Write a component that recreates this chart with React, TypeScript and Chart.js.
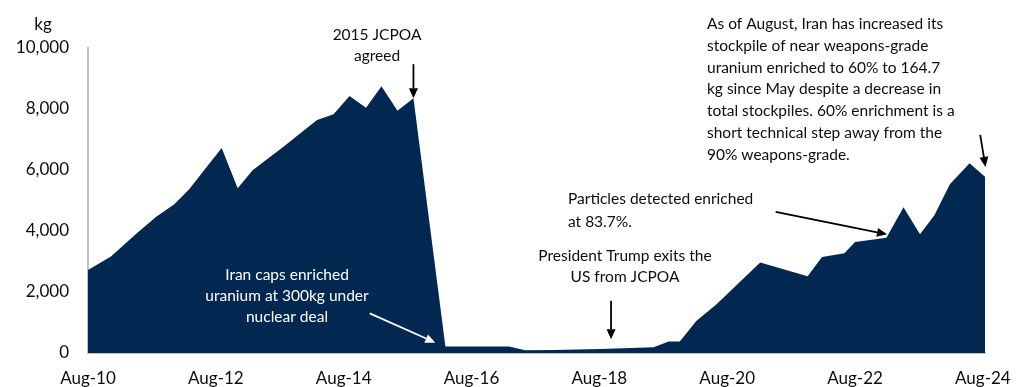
import React, { useEffect, useRef } from "react";
import { Chart, registerables } from "chart.js";

Chart.register(...registerables);

// Iran's enriched uranium stockpile (kg), by report date
const reportDates = [
  "2010-08-01", "2010-12-10", "2011-05-01", "2011-08-25", "2011-12-07",
  "2012-03-01", "2012-05-28", "2012-09-04", "2012-12-04", "2013-02-28",
  "2013-09-01", "2013-11-25", "2014-03-01", "2014-06-04", "2014-09-04",
  "2014-12-07", "2015-03-04", "2015-06-04", "2015-09-04", "2016-03-04",
  "2017-03-01", "2017-06-04", "2017-11-13", "2018-08-07", "2019-06-07",
  "2019-09-01", "2019-11-04", "2020-02-07", "2020-06-01", "2021-02-07",
  "2021-11-04", "2022-01-25", "2022-06-01", "2022-08-01", "2023-01-28",
  "2023-05-04", "2023-08-07", "2023-10-28", "2024-01-25", "2024-05-16",
  "2024-08-13",
];
const stockpileKg = [
  2720, 3160, 3900, 4470, 4880,
  5370, 6020, 6720, 5400, 5990,
  6800, 7200, 7640, 7830, 8430,
  8040, 8750, 7940, 8350, 210,
  210, 90, 100, 130, 190,
  380, 380, 1050, 1600, 2970,
  2520, 3150, 3270, 3640, 3780,
  4780, 3890, 4520, 5530, 6220,
  5780,
];

const xTickDates = ["2010-08-01", "2012-08-01", "2014-08-01", "2016-08-01", "2018-08-01", "2020-08-01", "2022-08-01", "2024-08-01"];
const xTickLabels = ["Aug-10", "Aug-12", "Aug-14", "Aug-16", "Aug-18", "Aug-20", "Aug-22", "Aug-24"];
const yTickValues = [0, 2000, 4000, 6000, 8000, 10000];
const yAxisTitle = "kg";

const FILL = "#022851";
const TEXT = "#0d0d0d";
const AXIS = "#bfbfbf";
const FONT = "Lato, 'DejaVu Sans', sans-serif";

// months elapsed since Aug 2010
function monthIndex(date: string): number {
  const [y, m, d] = date.split("-").map(Number);
  return (y - 2010) * 12 + (m - 8) + (d - 1) / 30;
}

type Note = { lines: string[]; x: number; y: number; align: CanvasTextAlign; color: string; lh: number };
const notes: Note[] = [
  { lines: ["2015 JCPOA", "agreed"], x: 377, y: 35, align: "center", color: TEXT, lh: 21 },
  { lines: ["Iran caps enriched", "uranium at 300kg under", "nuclear deal"], x: 287, y: 275, align: "center", color: "#ffffff", lh: 21 },
  { lines: ["President Trump exits the", "US from JCPOA"], x: 625, y: 256, align: "center", color: TEXT, lh: 21 },
  { lines: ["Particles detected enriched", "at 83.7%."], x: 568, y: 199, align: "left", color: TEXT, lh: 22.5 },
  {
    lines: [
      "As of August, Iran has increased its",
      "stockpile of near weapons-grade",
      "uranium enriched to 60% to 164.7",
      "kg since May despite a decrease in",
      "total stockpiles. 60% enrichment is a",
      "short technical step away from the",
      "90% weapons-grade.",
    ],
    x: 707, y: 24, align: "left", color: TEXT, lh: 21.8,
  },
];

// arrows in data space: [fromMonth, fromKg] -> [toMonth, toKg]
type Arrow = { from: [number, number]; to: [number, number]; color: string };
const arrows: Arrow[] = [
  { from: [61.1, 9470], to: [61.1, 8350], color: "#000000" },
  { from: [52.9, 1300], to: [65.2, 340], color: "#ffffff" },
  { from: [98.2, 1715], to: [98.2, 450], color: "#000000" },
  { from: [129.1, 4630], to: [150.0, 3890], color: "#000000" },
  { from: [167.5, 7150], to: [168.5, 6100], color: "#000000" },
];

const annotationPlugin = {
  id: "notes",
  afterDatasetsDraw(chart: any) {
    const ctx: CanvasRenderingContext2D = chart.ctx;
    const xs = chart.scales.x;
    const ys = chart.scales.y;
    ctx.save();
    // axis title
    ctx.font = `17px ${FONT}`;
    ctx.fillStyle = TEXT;
    ctx.textAlign = "center";
    ctx.textBaseline = "middle";
    ctx.fillText(yAxisTitle, 43, 25);

    ctx.font = `15.5px ${FONT}`;
    for (const n of notes) {
      ctx.fillStyle = n.color;
      ctx.textAlign = n.align;
      n.lines.forEach((line, i) => ctx.fillText(line, n.x, n.y + i * n.lh));
    }

    for (const a of arrows) {
      const x1 = xs.getPixelForValue(a.from[0]);
      const y1 = ys.getPixelForValue(a.from[1]);
      const x2 = xs.getPixelForValue(a.to[0]);
      const y2 = ys.getPixelForValue(a.to[1]);
      const ang = Math.atan2(y2 - y1, x2 - x1);
      const head = 10;
      const half = 4.5;
      const bx = x2 - head * Math.cos(ang);
      const by = y2 - head * Math.sin(ang);
      ctx.strokeStyle = a.color;
      ctx.fillStyle = a.color;
      ctx.lineWidth = 1.8;
      ctx.beginPath();
      ctx.moveTo(x1, y1);
      ctx.lineTo(bx, by);
      ctx.stroke();
      ctx.beginPath();
      ctx.moveTo(x2, y2);
      ctx.lineTo(bx + half * Math.sin(ang), by - half * Math.cos(ang));
      ctx.lineTo(bx - half * Math.sin(ang), by + half * Math.cos(ang));
      ctx.closePath();
      ctx.fill();
    }
    ctx.restore();
  },
};

export default function App() {
  const canvasRef = useRef<HTMLCanvasElement | null>(null);

  useEffect(() => {
    document.body.style.margin = "0";
    const canvas = canvasRef.current;
    if (!canvas) return;
    const points = reportDates.map((d, i) => ({ x: monthIndex(d), y: stockpileKg[i] }));
    const tickMonths = xTickDates.map(monthIndex);

    const chart = new Chart(canvas, {
      type: "line",
      data: {
        datasets: [
          {
            data: points,
            fill: "origin",
            backgroundColor: FILL,
            borderColor: FILL,
            borderWidth: 0,
            pointRadius: 0,
            tension: 0,
          },
        ],
      },
      options: {
        animation: false,
        responsive: false,
        maintainAspectRatio: false,
        layout: { padding: { top: 48, right: 39, left: 0, bottom: 0 } },
        plugins: { legend: { display: false }, tooltip: { enabled: false } },
        scales: {
          x: {
            type: "linear",
            min: 0,
            max: monthIndex("2024-08-13"),
            afterBuildTicks: (scale: any) => {
              scale.ticks = tickMonths.map((v) => ({ value: v }));
            },
            afterFit: (scale: any) => {
              scale.height = 34;
            },
            ticks: {
              autoSkip: false,
              maxRotation: 0,
              padding: 9,
              color: TEXT,
              font: { family: FONT, size: 17 },
              callback: (v: any) => {
                const i = tickMonths.findIndex((t) => Math.abs(t - Number(v)) < 0.01);
                return i >= 0 ? xTickLabels[i] : "";
              },
            },
            grid: { display: false, drawTicks: true, tickLength: 6, tickColor: AXIS, tickWidth: 2 } as any,
            border: { display: true, color: AXIS, width: 2 },
          },
          y: {
            type: "linear",
            min: 0,
            max: 10000,
            afterBuildTicks: (scale: any) => {
              scale.ticks = yTickValues.map((v) => ({ value: v }));
            },
            afterFit: (scale: any) => {
              scale.width = 88;
            },
            ticks: {
              padding: 13,
              color: TEXT,
              font: { family: FONT, size: 17 },
              callback: (v: any) => Number(v).toLocaleString("en-US"),
            },
            grid: { display: false, drawTicks: true, tickLength: 6, tickColor: AXIS, tickWidth: 2 } as any,
            border: { display: true, color: AXIS, width: 2 },
          },
        },
      },
      plugins: [annotationPlugin],
    });
    return () => chart.destroy();
  }, []);

  return (
    <div style={{ width: 1024, height: 387 }}>
      <canvas ref={canvasRef} width={1024} height={387} style={{ display: "block" }} />
    </div>
  );
}
